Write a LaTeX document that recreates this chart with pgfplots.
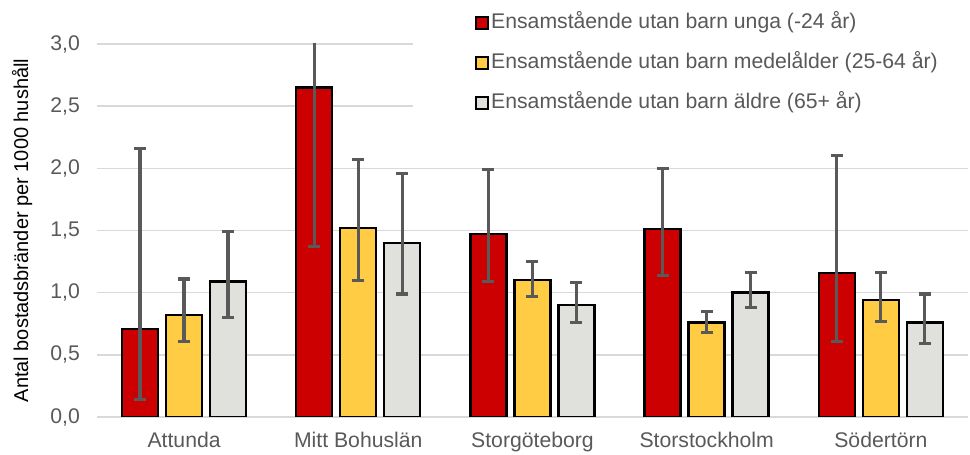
\documentclass[border=0pt]{standalone}
\usepackage{fontspec}
\setmainfont{Liberation Sans}
\usepackage{pgfplots}
\pgfplotsset{compat=1.18}
\definecolor{cRed}{HTML}{CC0000}
\definecolor{cYel}{HTML}{FFCC44}
\definecolor{cGry}{HTML}{E0E0DD}
\definecolor{txt}{HTML}{595959}
\definecolor{grd}{HTML}{D9D9D9}
\definecolor{err}{HTML}{595959}
\begin{document}
\begin{tikzpicture}
\begin{axis}[
  scale only axis,
  width=435.5pt, height=186.5pt,
  xmin=-0.5, xmax=4.5, ymin=0, ymax=3,
  ybar, bar width=18pt,
  xtick={0,1,2,3,4},
  xticklabels={Attunda, Mitt Bohuslän, Storgöteborg, Storstockholm, Södertörn},
  ytick={0,0.5,...,3},
  yticklabel style={/pgf/number format/use comma, /pgf/number format/fixed, /pgf/number format/fixed zerofill, /pgf/number format/precision=1, xshift=-5pt},
  /pgf/number format/assume math mode=true,
  major tick length=0pt,
  axis line style={draw=none},
  ymajorgrids, grid style={grd, line width=0.75pt},
  tick label style={font=\fontsize{10.6}{12}\selectfont, text=txt},
  xticklabel style={yshift=-4pt},
  ylabel={Antal bostadsbränder per 1000 hushåll},
  ylabel style={font=\fontsize{10}{12}\selectfont, text=txt},
  every axis y label/.style={at={(axis description cs:-0.086,0.5)}, rotate=90, anchor=center},
  legend cell align=left,
  legend image code/.code={\draw[#1, line width=0.9pt] (0pt,-3pt) rectangle (6pt,3pt);},
  legend style={at={(158pt,209pt)}, anchor=north west, fill=white, draw=none,
    inner xsep=31pt, inner ysep=6pt, row sep=8pt,
    font=\fontsize{10.6}{12}\selectfont, text=txt,
    nodes={inner sep=1pt, text height=7.5pt, text depth=2.5pt}},
  error bars/y dir=both, error bars/y explicit,
  error bars/error bar style={err, line width=1.6pt},
  error bars/error mark options={err, line width=1.6pt, mark size=3pt, rotate=90},
]
\addplot[fill=cRed, draw=black, line width=1.2pt, bar shift=-22pt] coordinates {
  (0,0.71) += (0,1.45) -= (0,0.57)
  (1,2.65) += (0,0.50) -= (0,1.28)
  (2,1.47) += (0,0.52) -= (0,0.38)
  (3,1.51) += (0,0.49) -= (0,0.37)
  (4,1.16) += (0,0.94) -= (0,0.55)
};
\addlegendentry{Ensamstående utan barn unga (-24 år)}
\addplot[fill=cYel, draw=black, line width=1.2pt, bar shift=0pt] coordinates {
  (0,0.82) += (0,0.29) -= (0,0.21)
  (1,1.52) += (0,0.55) -= (0,0.42)
  (2,1.10) += (0,0.15) -= (0,0.13)
  (3,0.76) += (0,0.09) -= (0,0.08)
  (4,0.94) += (0,0.22) -= (0,0.17)
};
\addlegendentry{Ensamstående utan barn medelålder (25-64 år)}
\addplot[fill=cGry, draw=black, line width=1.2pt, bar shift=22pt] coordinates {
  (0,1.09) += (0,0.40) -= (0,0.29)
  (1,1.40) += (0,0.56) -= (0,0.41)
  (2,0.90) += (0,0.18) -= (0,0.14)
  (3,1.00) += (0,0.16) -= (0,0.12)
  (4,0.76) += (0,0.23) -= (0,0.17)
};
\addlegendentry{Ensamstående utan barn äldre (65+ år)}
\end{axis}
\pgfresetboundingbox
\path (-48.5pt,-19pt) rectangle (436.5pt,208.5pt);
\end{tikzpicture}
\end{document}
